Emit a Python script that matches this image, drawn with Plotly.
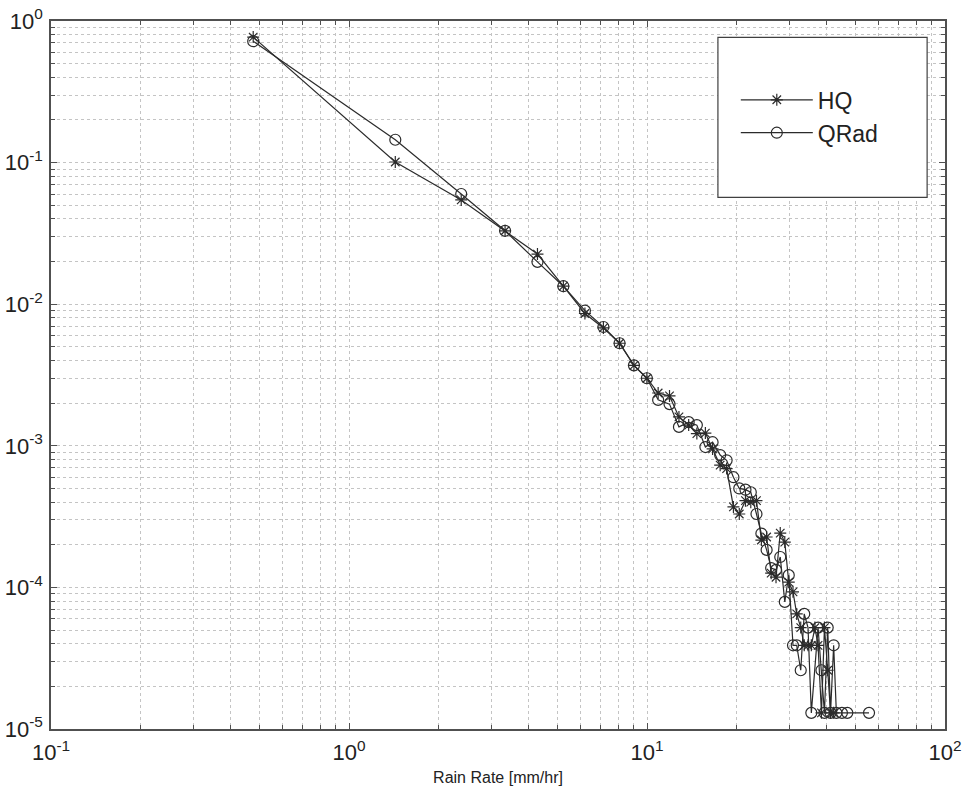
import plotly.graph_objects as go

# ---- data ----
hq_x = [0.477, 1.43, 2.38, 3.34, 4.29, 5.24, 6.19, 7.14, 8.09, 9.04,
        9.99, 10.9, 11.9, 12.8, 13.8, 14.7, 15.7, 16.6, 17.6, 18.5,
        19.5, 20.4, 21.4, 22.3, 23.3, 24.2, 25.2, 26.1, 27.1, 28.0,
        29.0, 29.9, 30.9, 31.8, 32.8, 33.7, 34.7, 35.6, 36.6, 37.5,
        38.5, 39.4, 40.4, 41.3, 42.3]
hq_y = [0.77, 0.101, 0.0545, 0.033, 0.0226, 0.0134, 0.0086, 0.0068, 0.0053, 0.0037,
        0.0030, 0.00236, 0.00225, 0.0016, 0.0014, 0.00122, 0.00123, 0.00095, 0.00073, 0.00069,
        0.00037, 0.00033, 0.00041, 0.0004, 0.00041, 0.000216, 0.000227, 0.000126, 0.000118, 0.000242,
        0.000209, 0.000109, 0.000093, 0.000065, 0.000052, 0.000039, 0.000039, 0.000039, 0.000052, 0.000039,
        0.000013, 0.000052, 0.000026, 0.000013, 0.000013]

qrad_x = [0.477, 1.43, 2.38, 3.34, 4.29, 5.24, 6.19, 7.14, 8.09, 9.04,
          9.99, 10.9, 11.9, 12.8, 13.8, 14.7, 15.7, 16.6, 17.6, 18.5,
          19.5, 20.4, 21.4, 22.3, 23.3, 24.2, 25.2, 26.1, 27.1, 28.0,
          29.0, 29.9, 30.9, 31.8, 32.8, 33.7, 34.7, 35.6, 37.5, 38.5,
          39.4, 40.4, 41.3, 42.3, 43.2, 45.1, 47.0, 55.6]
qrad_y = [0.72, 0.145, 0.060, 0.033, 0.0199, 0.0134, 0.0090, 0.0069, 0.0053, 0.0037,
          0.0030, 0.00211, 0.00197, 0.00136, 0.00147, 0.0014, 0.00098, 0.00106, 0.00086, 0.00079,
          0.0006, 0.0005, 0.00049, 0.00047, 0.00033, 0.00024, 0.000184, 0.000137, 0.000133, 0.000164,
          0.000079, 0.000122, 0.000039, 0.000039, 0.000026, 0.000065, 0.000052, 0.000013, 0.000052, 0.000026,
          0.000013, 0.000052, 0.000013, 0.000039, 0.000013, 0.000013, 0.000013, 0.000013]

series_names = ["HQ", "QRad"]
x_tick_vals = [0.1, 1, 10, 100]
x_tick_text = ["10<sup>-1</sup>", "10<sup>0</sup>", "10<sup>1</sup>", "10<sup>2</sup>"]
y_tick_vals = [1e-5, 1e-4, 1e-3, 1e-2, 1e-1, 1]
y_tick_text = ["10<sup>-5</sup>", "10<sup>-4</sup>", "10<sup>-3</sup>",
               "10<sup>-2</sup>", "10<sup>-1</sup>", "10<sup>0</sup>"]
x_title = "Rain Rate [mm/hr]"

x_minor = [m * 10 ** e for e in (-1, 0, 1) for m in range(2, 10)]
y_minor = [m * 10 ** e for e in (-5, -4, -3, -2, -1) for m in range(2, 10)]

INK = "#2b2b2b"
FONT = "Liberation Sans, Arial, sans-serif"

fig = go.Figure()
fig.add_trace(go.Scatter(
    x=hq_x, y=hq_y, name=series_names[0], mode="lines+markers",
    line=dict(color=INK, width=1.2),
    marker=dict(symbol="asterisk-open", size=10, color=INK, line=dict(color=INK, width=1.2)),
))
fig.add_trace(go.Scatter(
    x=qrad_x, y=qrad_y, name=series_names[1], mode="lines+markers",
    line=dict(color=INK, width=1.2),
    marker=dict(symbol="circle-open", size=11, color=INK, line=dict(color=INK, width=1.2)),
))

grid = dict(gridcolor="#c4c4c4", griddash="dot", gridwidth=1)
axis_common = dict(
    type="log", showline=True, linecolor="#505050", linewidth=1.5, mirror="allticks",
    ticks="inside", ticklen=6, tickcolor="#505050", tickwidth=1.2,
    tickfont=dict(family=FONT, size=22, color="#222222"),
    zeroline=False, showgrid=True, automargin=False, **grid,
)

fig.update_xaxes(
    range=[-1, 2], tickmode="array", tickvals=x_tick_vals, ticktext=x_tick_text,
    minor=dict(tickmode="array", tickvals=x_minor, ticks="inside", ticklen=4,
               tickcolor="#505050", showgrid=True, **grid),
    title=dict(text=x_title, font=dict(family=FONT, size=16, color="#222222"), standoff=8),
    ticklabelstandoff=3,
    **axis_common,
)
fig.update_yaxes(
    range=[-5, 0], tickmode="array", tickvals=y_tick_vals, ticktext=y_tick_text,
    minor=dict(tickmode="array", tickvals=y_minor, ticks="inside", ticklen=4,
               tickcolor="#505050", showgrid=True, **grid),
    ticklabelstandoff=2,
    **axis_common,
)

# legend frame (larger than its entries, as in the reference)
fig.add_shape(type="rect", xref="paper", yref="paper",
              x0=0.746, x1=0.980, y0=0.751, y1=0.977,
              line=dict(color="#404040", width=1.2), fillcolor="white", layer="above")

fig.update_layout(
    width=963, height=793,
    margin=dict(l=51, r=18, t=21, b=64),
    paper_bgcolor="white", plot_bgcolor="white",
    font=dict(family=FONT, color="#222222"),
    showlegend=True,
    legend=dict(x=0.766, y=0.919, xanchor="left", yanchor="top",
                bgcolor="rgba(0,0,0,0)", borderwidth=0,
                font=dict(family=FONT, size=23, color="#222222"),
                itemwidth=72, tracegroupgap=0),
)

fig.write_html("out.html")
